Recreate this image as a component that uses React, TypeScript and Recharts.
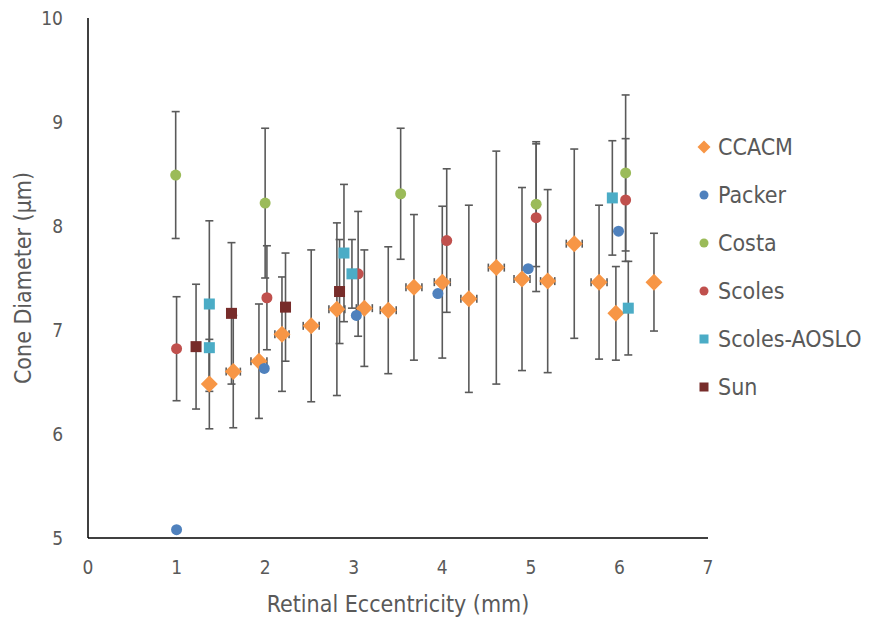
import { ScatterChart, Scatter, XAxis, YAxis, ErrorBar } from 'recharts'

// CCACM (diamonds, with y and small x error bars)
const ccacmX = [1.37, 1.64, 1.93, 2.19, 2.52, 2.81, 3.12, 3.39, 3.68, 4.0, 4.3, 4.61, 4.9, 5.19, 5.49, 5.77, 5.96, 6.39]
const ccacmY = [6.48, 6.6, 6.7, 6.96, 7.04, 7.2, 7.21, 7.19, 7.41, 7.46, 7.3, 7.6, 7.49, 7.47, 7.83, 7.46, 7.16, 7.46]
const ccacmYErr = [0.43, 0.54, 0.55, 0.55, 0.73, 0.83, 0.56, 0.61, 0.7, 0.73, 0.9, 1.12, 0.88, 0.88, 0.91, 0.74, 0.45, 0.47]
const ccacmXErr = [0, 0.08, 0.09, 0.08, 0.09, 0.09, 0.09, 0.09, 0.09, 0.09, 0.09, 0.09, 0.09, 0.08, 0.09, 0.09, 0, 0]

const packerX = [1.0, 1.99, 3.03, 3.95, 4.97, 5.99]
const packerY = [5.08, 6.63, 7.14, 7.35, 7.59, 7.95]

const costaX = [0.99, 2.0, 3.53, 5.06, 6.07]
const costaY = [8.49, 8.22, 8.31, 8.21, 8.51]
const costaErr = [0.61, 0.72, 0.63, 0.6, 0.75]

const scolesX = [1.0, 2.02, 3.05, 4.05, 5.06, 6.07]
const scolesY = [6.82, 7.31, 7.54, 7.86, 8.08, 8.25]
const scolesErr = [0.5, 0.5, 0.6, 0.69, 0.71, 0.59]

const aosloX = [1.37, 1.37, 2.89, 2.98, 5.92, 6.1]
const aosloY = [7.25, 6.83, 7.74, 7.54, 8.27, 7.21]
const aosloErr = [0.8, 0.42, 0.66, 0.33, 0.55, 0.45]

const sunX = [1.22, 1.62, 2.23, 2.84]
const sunY = [6.84, 7.16, 7.22, 7.37]
const sunErr = [0.6, 0.68, 0.52, 0.5]

const xTicks = [0, 1, 2, 3, 4, 5, 6, 7]
const yTicks = [5, 6, 7, 8, 9, 10]

const FONT = "'DejaVu Sans Condensed', 'DejaVu Sans', sans-serif"
const TEXT = '#595959'
const ERR = '#5a5a5a'

type Pt = { x: number; y: number; yErr: number; xErr: number }

function points(xs: number[], ys: number[], yErr?: number[], xErr?: number[]): Pt[] {
    return xs.map((x, i) => ({
        x,
        y: ys[i],
        yErr: yErr ? yErr[i] : 0,
        xErr: xErr ? xErr[i] : 0,
    }))
}

const Diamond = (props: any) => {
    const { cx, cy, fill } = props
    const r = 8.5
    return <polygon points={`${cx},${cy - r} ${cx + r},${cy} ${cx},${cy + r} ${cx - r},${cy}`} fill={fill} />
}
const Dot = (props: any) => <circle cx={props.cx} cy={props.cy} r={5.5} fill={props.fill} />
const Square = (props: any) => <rect x={props.cx - 5.5} y={props.cy - 5.5} width={11} height={11} fill={props.fill} />

const SERIES = [
    { name: 'CCACM', color: '#f79646', kind: 'diamond' },
    { name: 'Packer', color: '#4f81bd', kind: 'circle' },
    { name: 'Costa', color: '#9bbb59', kind: 'circle' },
    { name: 'Scoles', color: '#c0504d', kind: 'circle' },
    { name: 'Scoles-AOSLO', color: '#4bacc6', kind: 'square' },
    { name: 'Sun', color: '#772c2a', kind: 'square' },
]

function LegendIcon({ kind, color }: { kind: string; color: string }) {
    return (
        <svg width={14} height={14} style={{ display: 'block' }}>
            {kind === 'diamond' && <polygon points="7,0.5 13.5,7 7,13.5 0.5,7" fill={color} />}
            {kind === 'circle' && <circle cx={7} cy={7} r={4.5} fill={color} />}
            {kind === 'square' && <rect x={2.5} y={2.5} width={9} height={9} fill={color} />}
        </svg>
    )
}

export default function App() {
    const tick = { fill: TEXT, fontSize: 19, fontFamily: FONT }
    return (
        <div style={{ position: 'absolute', left: 0, top: 0, width: 869, height: 620, background: '#fff', fontFamily: FONT }}>
            <ScatterChart width={869} height={620} margin={{ top: 18, right: 161, bottom: 0, left: 0 }}>
                <XAxis
                    type="number"
                    dataKey="x"
                    domain={[0, 7]}
                    ticks={xTicks}
                    height={82}
                    tickLine={false}
                    tickSize={0}
                    tickMargin={23}
                    tick={tick}
                    axisLine={{ stroke: '#000', strokeWidth: 1.5 }}
                    label={{
                        value: 'Retinal Eccentricity (mm)',
                        position: 'insideBottom',
                        offset: 8,
                        fill: TEXT,
                        fontSize: 23,
                        fontFamily: FONT,
                    }}
                />
                <YAxis
                    type="number"
                    dataKey="y"
                    domain={[5, 10]}
                    ticks={yTicks}
                    width={88}
                    tickLine={false}
                    tickSize={0}
                    tickMargin={25}
                    tick={tick}
                    axisLine={{ stroke: '#000', strokeWidth: 1.5 }}
                    label={{
                        value: 'Cone Diameter (µm)',
                        angle: -90,
                        position: 'insideLeft',
                        offset: 23,
                        style: { textAnchor: 'middle' },
                        fill: TEXT,
                        fontSize: 23,
                        fontFamily: FONT,
                    }}
                />
                <Scatter name="CCACM" data={points(ccacmX, ccacmY, ccacmYErr, ccacmXErr)} fill="#f79646" shape={Diamond} isAnimationActive={false}>
                    <ErrorBar dataKey="yErr" direction="y" width={4} stroke={ERR} strokeWidth={1.6} />
                    <ErrorBar dataKey="xErr" direction="x" width={4} stroke={ERR} strokeWidth={1.6} />
                </Scatter>
                <Scatter name="Packer" data={points(packerX, packerY)} fill="#4f81bd" shape={Dot} isAnimationActive={false} />
                <Scatter name="Costa" data={points(costaX, costaY, costaErr)} fill="#9bbb59" shape={Dot} isAnimationActive={false}>
                    <ErrorBar dataKey="yErr" direction="y" width={4} stroke={ERR} strokeWidth={1.6} />
                </Scatter>
                <Scatter name="Scoles" data={points(scolesX, scolesY, scolesErr)} fill="#c0504d" shape={Dot} isAnimationActive={false}>
                    <ErrorBar dataKey="yErr" direction="y" width={4} stroke={ERR} strokeWidth={1.6} />
                </Scatter>
                <Scatter name="Scoles-AOSLO" data={points(aosloX, aosloY, aosloErr)} fill="#4bacc6" shape={Square} isAnimationActive={false}>
                    <ErrorBar dataKey="yErr" direction="y" width={4} stroke={ERR} strokeWidth={1.6} />
                </Scatter>
                <Scatter name="Sun" data={points(sunX, sunY, sunErr)} fill="#772c2a" shape={Square} isAnimationActive={false}>
                    <ErrorBar dataKey="yErr" direction="y" width={4} stroke={ERR} strokeWidth={1.6} />
                </Scatter>
            </ScatterChart>

            <div style={{ position: 'absolute', left: 697, top: 123 }}>
                {SERIES.map(s => (
                    <div key={s.name} style={{ display: 'flex', alignItems: 'center', height: 48, gap: 7 }}>
                        <LegendIcon kind={s.kind} color={s.color} />
                        <span style={{ color: TEXT, fontSize: 23 }}>{s.name}</span>
                    </div>
                ))}
            </div>
        </div>
    )
}
